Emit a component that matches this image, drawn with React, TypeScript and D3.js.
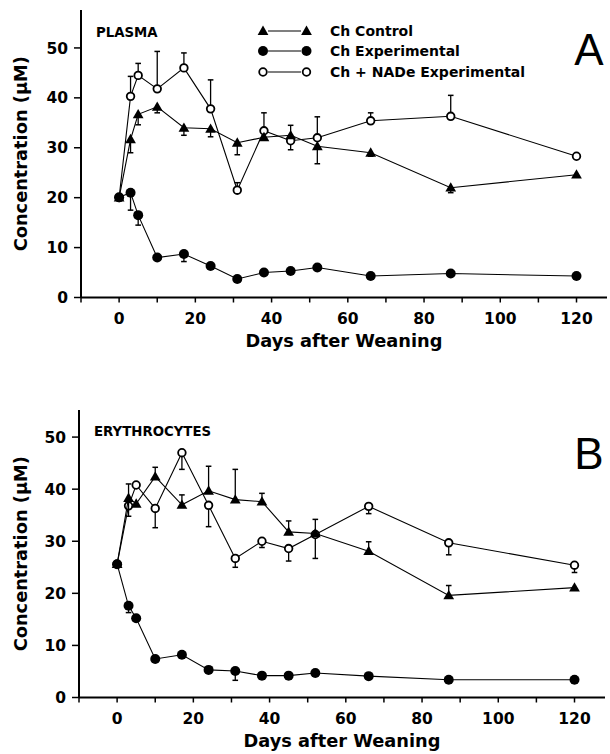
import React, { useEffect, useRef } from "react";
import * as d3 from "d3";

// days after weaning (shared by both panels)
const days = [0, 3, 5, 10, 17, 24, 31, 38, 45, 52, 66, 87, 120];

// Panel A - plasma
const plasmaControl = [20, 31.7, 36.7, 38.2, 34, 33.8, 31, 32.1, 32.5, 30.3, 29, 22, 24.6];
const plasmaControlErr = [null, 29, 34.6, 37, 32.5, 32.2, 28.6, null, 34.5, 26.8, 28.3, 21, null];
const plasmaExperimental = [20.1, 21, 16.5, 8, 8.7, 6.3, 3.7, 5, 5.3, 6, 4.3, 4.8, 4.3];
const plasmaExperimentalErr = [null, 17.5, 14.5, null, 7.2, null, null, null, null, null, null, null, null];
const plasmaNade = [20, 40.3, 44.5, 41.8, 46, 37.8, 21.5, 33.4, 31.4, 32, 35.4, 36.3, 28.3];
const plasmaNadeErr = [null, 44.3, 46.9, 49.3, 49, 43.6, 23, 37, 29.6, 36.2, 37, 40.5, null];

// Panel B - erythrocytes
const eryControl = [25.6, 38.3, 37.2, 42.4, 37, 39.7, 38, 37.6, 31.8, 31.5, 28.1, 19.6, 21.1];
const eryControlErr = [null, 34.8, null, 44.2, 38.9, 44.4, 43.8, 39.2, 33.9, 34.2, 29.9, 21.5, null];
const eryExperimental = [25.6, 17.6, 15.2, 7.4, 8.2, 5.3, 5.1, 4.2, 4.2, 4.7, 4.1, 3.4, 3.4];
const eryExperimentalErr = [null, 16.3, null, null, null, null, 3.3, null, null, null, null, null, null];
const eryNade = [25.6, 36.8, 40.8, 36.3, 47, 36.9, 26.7, 30, 28.6, 31.3, 36.7, 29.7, 25.4];
const eryNadeErr = [null, 41, null, 32.6, 43.8, 32.8, 25, 28.8, 26.2, 26.7, 35.3, 27.4, 24];

const yTicks = [0, 10, 20, 30, 40, 50];
const xTicks = [0, 20, 40, 60, 80, 100, 120];
const xMinorTicks = [-10, 10, 30, 50, 70, 90, 110];

const legendLabels = ["Ch Control", "Ch Experimental", "Ch + NADe Experimental"];

const FONT = "'DejaVu Sans', sans-serif";

export default function App() {
  const svgRef = useRef(null);

  useEffect(() => {
    const svg = d3.select(svgRef.current);
    svg.selectAll("*").remove();

    const triangle = d3.symbol().type(d3.symbolTriangle).size(50);

    const drawMarker = (g, kind, x, y) => {
      if (kind === "tri") {
        g.append("path")
          .attr("d", triangle())
          .attr("transform", `translate(${x},${y + 0.8})`)
          .attr("fill", "#000");
      } else if (kind === "filled") {
        g.append("circle").attr("cx", x).attr("cy", y).attr("r", 5).attr("fill", "#000");
      } else {
        g.append("circle")
          .attr("cx", x)
          .attr("cy", y)
          .attr("r", 3.8)
          .attr("fill", "#fff")
          .attr("stroke", "#000")
          .attr("stroke-width", 1.8);
      }
    };

    const panel = (cfg) => {
      const x = d3.scaleLinear().domain([-10, 128]).range([cfg.left, cfg.right]);
      const y = d3.scaleLinear().domain([0, cfg.yMax]).range([cfg.bottom, cfg.top]);
      const g = svg.append("g");

      // series: open circles first, then triangles, then filled circles
      cfg.series.forEach((s) => {
        const pts = days.map((d, i) => [x(d), y(s.values[i])]);
        const sg = g.append("g");
        // error bars
        s.err.forEach((e, i) => {
          if (e == null) return;
          const px = x(days[i]);
          sg.append("line")
            .attr("x1", px).attr("x2", px)
            .attr("y1", y(s.values[i])).attr("y2", y(e))
            .attr("stroke", "#000").attr("stroke-width", 1.3);
          sg.append("line")
            .attr("x1", px - 2.8).attr("x2", px + 2.8)
            .attr("y1", y(e)).attr("y2", y(e))
            .attr("stroke", "#000").attr("stroke-width", 1.5);
        });
        sg.append("path")
          .attr("d", d3.line()(pts))
          .attr("fill", "none")
          .attr("stroke", "#000")
          .attr("stroke-width", 1.1);
        pts.forEach(([px, py]) => drawMarker(sg, s.kind, px, py));
      });

      // axes
      g.append("line")
        .attr("x1", cfg.left).attr("x2", cfg.right)
        .attr("y1", cfg.bottom).attr("y2", cfg.bottom)
        .attr("stroke", "#000").attr("stroke-width", 2);
      g.append("line")
        .attr("x1", cfg.left).attr("x2", cfg.left)
        .attr("y1", cfg.bottom).attr("y2", cfg.top)
        .attr("stroke", "#000").attr("stroke-width", 2);

      g.selectAll(".xt")
        .data(xTicks.concat(xMinorTicks))
        .enter()
        .append("line")
        .attr("x1", (d) => x(d)).attr("x2", (d) => x(d))
        .attr("y1", cfg.bottom).attr("y2", cfg.bottom + 5)
        .attr("stroke", "#000").attr("stroke-width", 1.5);

      g.selectAll(".xl")
        .data(xTicks)
        .enter()
        .append("text")
        .attr("x", (d) => x(d))
        .attr("y", cfg.bottom + 26)
        .attr("text-anchor", "middle")
        .attr("font-family", FONT)
        .attr("font-weight", "bold")
        .attr("font-size", 15.5)
        .text((d) => d);

      g.selectAll(".yt")
        .data(yTicks)
        .enter()
        .append("line")
        .attr("x1", cfg.left - 7).attr("x2", cfg.left)
        .attr("y1", (d) => y(d)).attr("y2", (d) => y(d))
        .attr("stroke", "#000").attr("stroke-width", 1.5);

      g.selectAll(".yl")
        .data(yTicks)
        .enter()
        .append("text")
        .attr("x", cfg.left - 13)
        .attr("y", (d) => y(d))
        .attr("dy", "0.36em")
        .attr("text-anchor", "end")
        .attr("font-family", FONT)
        .attr("font-weight", "bold")
        .attr("font-size", 15.5)
        .text((d) => d);

      g.append("text")
        .attr("x", (cfg.left + cfg.right) / 2)
        .attr("y", cfg.bottom + 49)
        .attr("text-anchor", "middle")
        .attr("font-family", FONT)
        .attr("font-weight", "bold")
        .attr("font-size", 17.8)
        .text("Days after Weaning");

      g.append("text")
        .attr("transform", `translate(27,${(cfg.top + cfg.bottom) / 2}) rotate(-90)`)
        .attr("text-anchor", "middle")
        .attr("font-family", FONT)
        .attr("font-weight", "bold")
        .attr("font-size", 17.8)
        .text("Concentration (\u03bcM)");

      g.append("text")
        .attr("x", cfg.left + 15)
        .attr("y", cfg.titleY)
        .attr("font-family", FONT)
        .attr("font-weight", "bold")
        .attr("font-size", 13.3)
        .text(cfg.title);

      g.append("text")
        .attr("x", 589)
        .attr("y", cfg.letterY)
        .attr("text-anchor", "middle")
        .attr("font-family", "'Liberation Sans', Arial, sans-serif")
        .attr("font-size", 44)
        .text(cfg.letter);
    };

    panel({
      left: 81, right: 607, top: 10, bottom: 297.5, yMax: 57.6,
      title: "PLASMA", titleY: 36.5, letter: "A", letterY: 65,
      series: [
        { kind: "open", values: plasmaNade, err: plasmaNadeErr },
        { kind: "tri", values: plasmaControl, err: plasmaControlErr },
        { kind: "filled", values: plasmaExperimental, err: plasmaExperimentalErr },
      ],
    });

    panel({
      left: 79, right: 605, top: 410, bottom: 697.5, yMax: 55.2,
      title: "ERYTHROCYTES", titleY: 436, letter: "B", letterY: 469,
      series: [
        { kind: "open", values: eryNade, err: eryNadeErr },
        { kind: "tri", values: eryControl, err: eryControlErr },
        { kind: "filled", values: eryExperimental, err: eryExperimentalErr },
      ],
    });

    // legend (panel A only)
    const lg = svg.append("g");
    const kinds = ["tri", "filled", "open"];
    const rowY = [31, 51, 72];
    legendLabels.forEach((label, i) => {
      lg.append("line")
        .attr("x1", 268).attr("x2", 301)
        .attr("y1", rowY[i]).attr("y2", rowY[i])
        .attr("stroke", "#000").attr("stroke-width", 1.1);
      drawMarker(lg, kinds[i], 263, rowY[i]);
      drawMarker(lg, kinds[i], 306.5, rowY[i]);
      lg.append("text")
        .attr("x", 330)
        .attr("y", rowY[i])
        .attr("dy", "0.36em")
        .attr("font-family", FONT)
        .attr("font-weight", "bold")
        .attr("font-size", 14)
        .text(label);
    });
  }, []);

  return (
    <svg
      ref={svgRef}
      width={610}
      height={754}
      style={{ position: "absolute", left: 0, top: 0, background: "#fff" }}
    />
  );
}
